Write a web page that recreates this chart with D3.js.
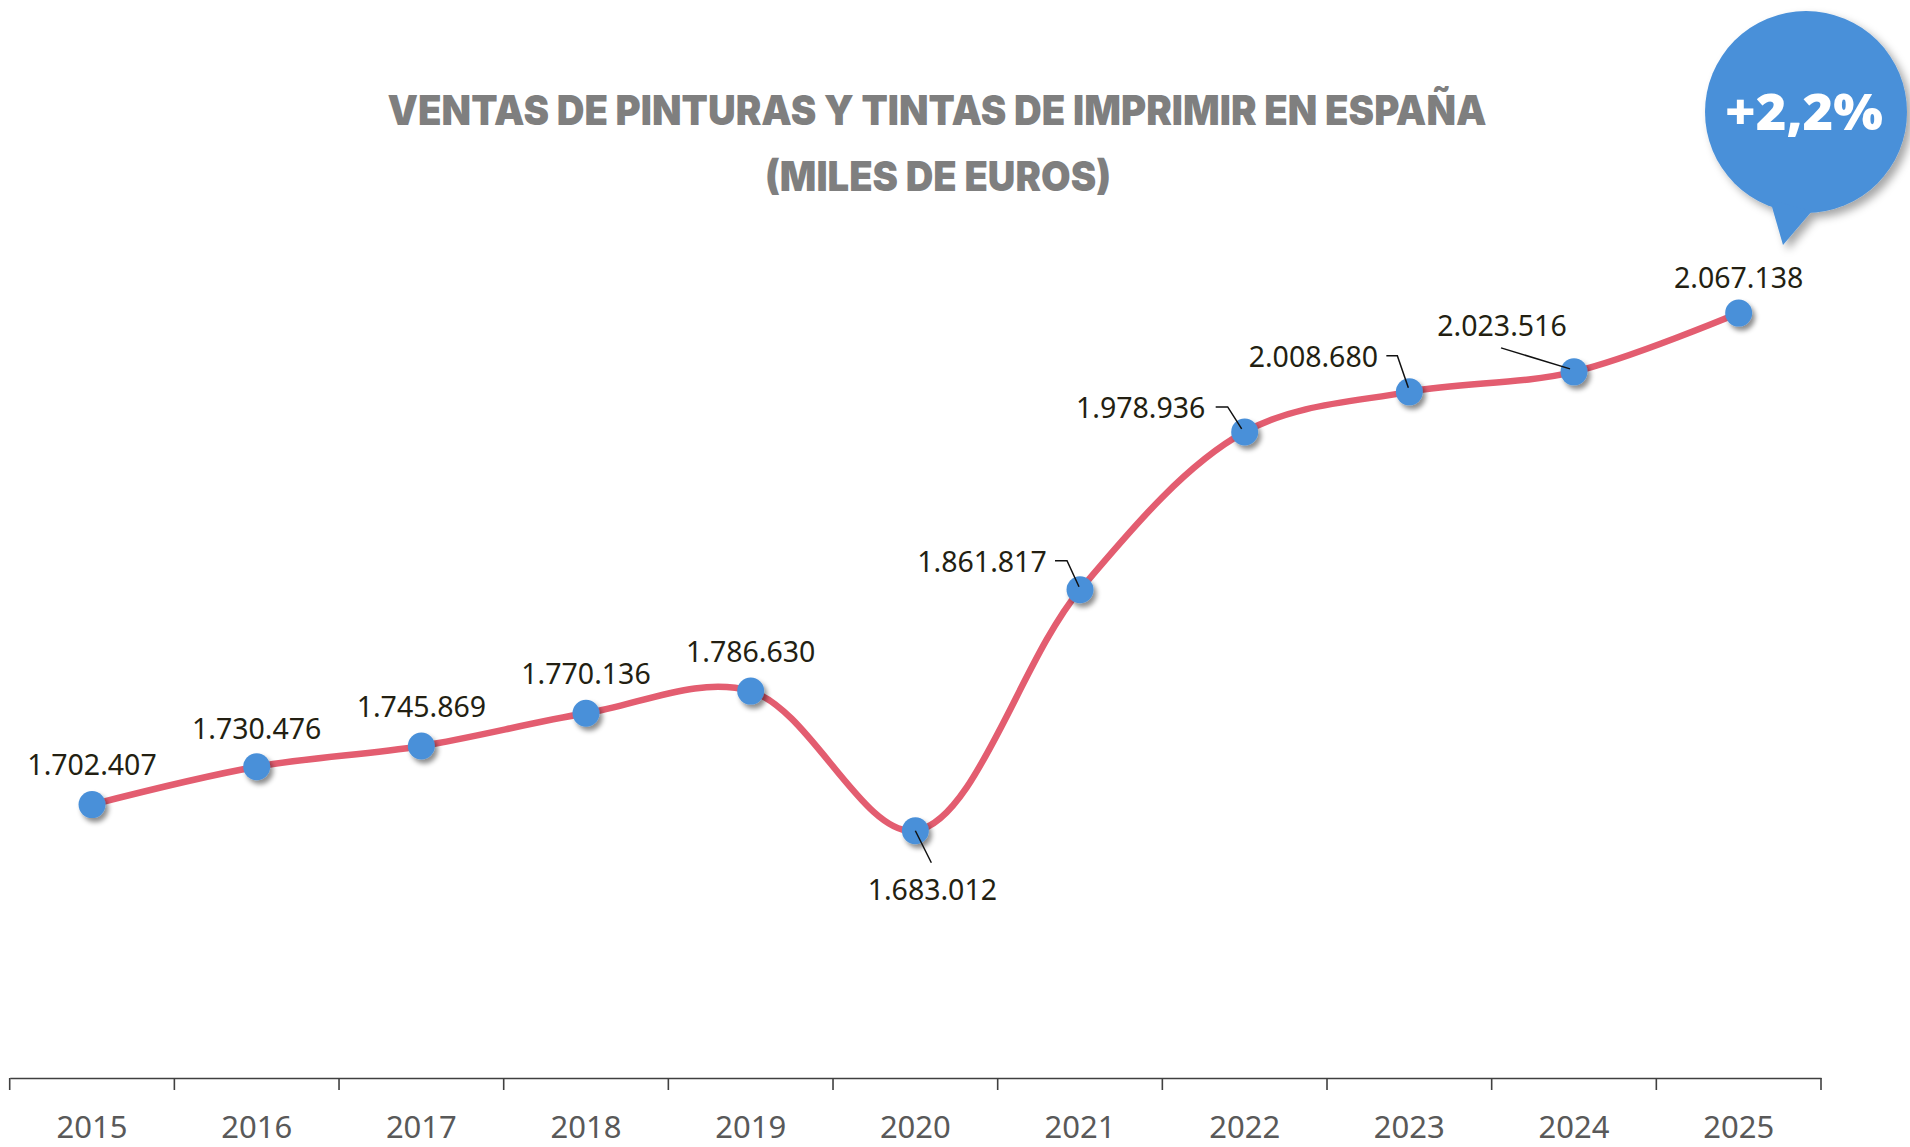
<!DOCTYPE html>
<html>
<head>
<meta charset="utf-8">
<script src="https://cdn.jsdelivr.net/npm/d3@7"></script>
<style>
  html, body { margin: 0; padding: 0; background: #fff; }
  svg { display: block; }
</style>
</head>
<body>
<div id="chart"></div>
<script>
var years = ["2015", "2016", "2017", "2018", "2019", "2020", "2021", "2022", "2023", "2024", "2025"];
var sales = [1702407, 1730476, 1745869, 1770136, 1786630, 1683012, 1861817, 1978936, 2008680, 2023516, 2067138];
var titleLines = ["VENTAS DE PINTURAS Y TINTAS DE IMPRIMIR EN ESPAÑA", "(MILES DE EUROS)"];
var growthLabel = "+2,2%";

// label placement relative to each dot (layout only)
var labelLayout = [
  { dx: 0, dy: -40 },
  { dx: 0, dy: -38 },
  { dx: 0, dy: -39 },
  { dx: 0, dy: -39 },
  { dx: 0, dy: -39 },
  { dx: 17, dy: 59, leader: [[0, 0], [16, 32]] },
  { dx: -98, dy: -28, leader: [[-25, -29], [-13, -29], [-1, -3]] },
  { dx: -104, dy: -24, leader: [[-29, -25], [-17, -25], [-3, -3]] },
  { dx: -96, dy: -35, leader: [[-23, -36], [-12, -36], [-1, -4]] },
  { dx: -72, dy: -46, leader: [[-73, -24], [-4, -3]] },
  { dx: 0, dy: -35 }
];

(function() {
  var width = 1910, height = 1147;
  var axisY = 1078;
  var blue = "#4a90d9", red = "#e35d70";
  var fmt = function(v) {
    return d3.format(",")(v).replace(/,/g, ".");
  };

  var data = years.map(function(y, i) {
    return { year: y, value: sales[i], layout: labelLayout[i] };
  });

  var svg = d3.select("#chart").append("svg")
    .attr("width", width).attr("height", height);

  var defs = svg.append("defs");
  defs.append("filter").attr("id", "dotShadow")
    .attr("x", "-50%").attr("y", "-50%").attr("width", "200%").attr("height", "200%")
    .append("feDropShadow")
    .attr("dx", 3).attr("dy", 4).attr("stdDeviation", 2.5)
    .attr("flood-color", "#000").attr("flood-opacity", 0.45);
  defs.append("filter").attr("id", "bubbleShadow")
    .attr("x", "-20%").attr("y", "-20%").attr("width", "140%").attr("height", "140%")
    .append("feDropShadow")
    .attr("dx", 5).attr("dy", 5).attr("stdDeviation", 4)
    .attr("flood-color", "#000").attr("flood-opacity", 0.35);

  var x = d3.scaleBand().domain(years).range([9.7, 1821]).padding(0);
  var y = d3.scaleLinear().domain([1600000, 2100000]).range([942.6, 268.8]);
  var cx = function(d) { return x(d.year) + x.bandwidth() / 2; };
  var cy = function(d) { return y(d.value); };

  // title
  var title = svg.append("g").attr("fill", "#7f7f7f")
    .style("font-family", "Inter, 'Noto Sans', sans-serif")
    .style("font-weight", 900)
    .style("font-size", "41px");
  title.append("text").attr("x", 937).attr("y", 125)
    .attr("text-anchor", "middle")
    .attr("textLength", 1099).attr("lengthAdjust", "spacingAndGlyphs")
    .text(titleLines[0]);
  title.append("text").attr("x", 938).attr("y", 191)
    .attr("text-anchor", "middle")
    .attr("textLength", 346).attr("lengthAdjust", "spacingAndGlyphs")
    .text(titleLines[1]);

  // x axis
  var xAxis = d3.axisBottom(x).tickSize(0).tickPadding(0);
  var gx = svg.append("g").attr("transform", "translate(0," + axisY + ")").call(xAxis);
  gx.select(".domain").attr("stroke", "#404040").attr("stroke-width", 1.6);
  gx.selectAll(".tick text")
    .attr("y", 49)
    .attr("dy", "0.36em")
    .attr("fill", "#595959")
    .style("font-family", "'Noto Sans', sans-serif")
    .style("font-size", "31px");
  var bounds = years.map(function(yr) { return x(yr); }).concat([x.range()[1]]);
  gx.selectAll(".bound").data(bounds).enter().append("line")
    .attr("x1", function(d) { return d; }).attr("x2", function(d) { return d; })
    .attr("y1", 0).attr("y2", 12)
    .attr("stroke", "#404040").attr("stroke-width", 1.6);

  // line
  var line = d3.line().x(cx).y(cy).curve(d3.curveCatmullRom.alpha(0.5));
  svg.append("path").datum(data)
    .attr("d", line)
    .attr("fill", "none")
    .attr("stroke", red)
    .attr("stroke-width", 6.5)
    .attr("stroke-linecap", "round");

  // dots
  svg.append("g").selectAll("circle").data(data).enter().append("circle")
    .attr("cx", cx).attr("cy", cy).attr("r", 13.5)
    .attr("fill", blue)
    .attr("filter", "url(#dotShadow)");

  // leader lines
  svg.append("g").selectAll("path").data(data.filter(function(d) { return d.layout.leader; }))
    .enter().append("path")
    .attr("d", function(d) {
      var px = cx(d), py = cy(d);
      return d3.line()(d.layout.leader.map(function(p) { return [px + p[0], py + p[1]]; }));
    })
    .attr("fill", "none").attr("stroke", "#111").attr("stroke-width", 1.5);

  // value labels
  svg.append("g").selectAll("text").data(data).enter().append("text")
    .attr("x", function(d) { return cx(d) + d.layout.dx; })
    .attr("y", function(d) { return cy(d) + d.layout.dy; })
    .attr("dy", "0.35em")
    .attr("text-anchor", "middle")
    .attr("fill", "#231f12")
    .style("font-family", "'Noto Sans', sans-serif")
    .style("font-size", "28.5px")
    .text(function(d) { return fmt(d.value); });

  // growth bubble
  var bx = 1806, by = 112, br = 101;
  var bubble = svg.append("g");
  var tail = "M1770," + (by + 88) + " L1783,245 L1812," + (by + 99) + " Z";
  var shape = bubble.append("g").attr("filter", "url(#bubbleShadow)");
  shape.append("circle").attr("cx", bx).attr("cy", by).attr("r", br).attr("fill", blue);
  shape.append("path").attr("d", tail).attr("fill", blue);
  bubble.append("text")
    .attr("x", 1804).attr("y", 130)
    .attr("text-anchor", "middle")
    .attr("fill", "#fff")
    .attr("textLength", 158).attr("lengthAdjust", "spacingAndGlyphs")
    .style("font-family", "'Open Sans', 'Noto Sans', sans-serif")
    .style("font-weight", 800)
    .style("font-size", "50px")
    .text(growthLabel);
})();
</script>
</body>
</html>
